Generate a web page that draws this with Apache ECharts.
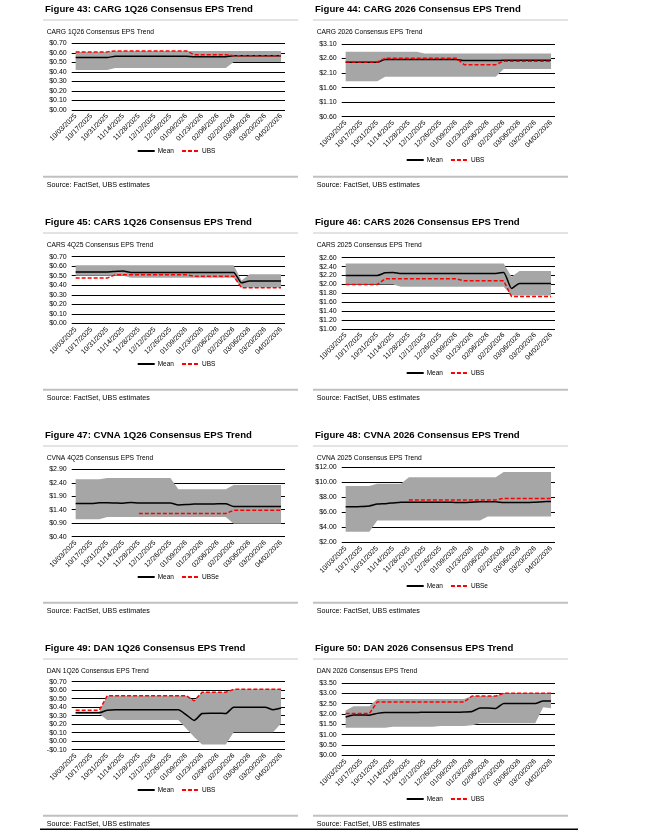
<!DOCTYPE html>
<html><head><meta charset="utf-8">
<script src="https://cdn.jsdelivr.net/npm/echarts@6/dist/echarts.min.js"></script>
<style>html,body{margin:0;padding:0;background:#fff}#c{width:672px;height:831px}</style>
</head><body><div id="c"></div>
<script>
// ---------- data ----------
const dates = ['10/03/2025','10/10/2025','10/17/2025','10/24/2025','10/31/2025','11/07/2025','11/14/2025','11/21/2025','11/28/2025','12/05/2025','12/12/2025','12/19/2025','12/26/2025','01/02/2026','01/09/2026','01/16/2026','01/23/2026','01/30/2026','02/06/2026','02/13/2026','02/20/2026','02/27/2026','03/06/2026','03/13/2026','03/20/2026','03/27/2026','04/02/2026'];

// Figure 43: CARG 1Q26
const cargQMean = [0.55,0.55,0.55,0.55,0.55,0.565,0.565,0.565,0.565,0.565,0.565,0.565,0.565,0.565,0.565,0.56,0.56,0.56,0.56,0.56,0.57,0.57,0.57,0.57,0.57,0.57,0.57];
const cargQUbs  = [0.61,0.61,0.61,0.61,0.61,0.62,0.62,0.62,0.62,0.62,0.62,0.62,0.62,0.62,0.62,0.58,0.58,0.58,0.58,0.58,0.57,0.57,0.57,0.57,0.57,0.57,0.57];
const cargQHigh = [0.61,0.61,0.61,0.61,0.61,0.62,0.62,0.62,0.62,0.62,0.62,0.62,0.62,0.62,0.62,0.62,0.62,0.62,0.62,0.62,0.62,0.62,0.62,0.62,0.62,0.62,0.62];
const cargQLow  = [0.42,0.42,0.42,0.42,0.42,0.44,0.44,0.44,0.44,0.44,0.44,0.44,0.44,0.44,0.44,0.44,0.44,0.44,0.44,0.44,0.505,0.505,0.505,0.505,0.505,0.505,0.505];

// Figure 44: CARG 2026
const carg26Mean = [2.47,2.47,2.47,2.47,2.47,2.57,2.57,2.57,2.57,2.57,2.57,2.57,2.57,2.57,2.57,2.53,2.53,2.53,2.53,2.53,2.54,2.54,2.54,2.54,2.54,2.54,2.54];
const carg26Ubs  = [2.48,2.48,2.48,2.48,2.48,2.61,2.61,2.61,2.61,2.61,2.61,2.61,2.61,2.61,2.61,2.39,2.39,2.39,2.39,2.39,2.51,2.51,2.51,2.51,2.51,2.51,2.51];
const carg26High = [2.83,2.83,2.83,2.83,2.83,2.83,2.83,2.83,2.83,2.83,2.77,2.77,2.77,2.77,2.77,2.77,2.77,2.77,2.77,2.77,2.77,2.77,2.77,2.77,2.77,2.77,2.77];
const carg26Low  = [1.82,1.82,1.82,1.82,1.82,1.97,1.97,1.97,1.97,1.97,1.97,1.97,1.97,1.97,1.97,1.97,1.97,1.97,1.97,1.97,2.24,2.24,2.24,2.24,2.24,2.24,2.24];

// Figure 45: CARS 1Q26
const carsQMean = [0.54,0.54,0.54,0.54,0.54,0.545,0.55,0.535,0.535,0.535,0.535,0.535,0.535,0.535,0.535,0.535,0.535,0.535,0.535,0.535,0.535,0.425,0.445,0.445,0.445,0.445,0.445];
const carsQUbs  = [0.475,0.475,0.475,0.475,0.475,0.51,0.51,0.51,0.51,0.51,0.51,0.51,0.51,0.51,0.51,0.495,0.495,0.495,0.495,0.495,0.495,0.373,0.373,0.373,0.373,0.373,0.373];
const carsQHigh = [0.61,0.61,0.61,0.61,0.61,0.61,0.61,0.61,0.61,0.61,0.61,0.61,0.61,0.61,0.61,0.61,0.61,0.61,0.61,0.61,0.61,0.45,0.515,0.515,0.515,0.515,0.515];
const carsQLow  = [0.50,0.50,0.50,0.50,0.50,0.50,0.50,0.48,0.48,0.48,0.48,0.48,0.48,0.48,0.48,0.48,0.48,0.48,0.48,0.48,0.48,0.375,0.375,0.375,0.375,0.375,0.375];

// Figure 46: CARS 2026
const cars26Mean = [2.20,2.20,2.20,2.20,2.20,2.26,2.27,2.245,2.245,2.245,2.245,2.245,2.245,2.245,2.245,2.245,2.245,2.245,2.245,2.245,2.27,1.91,2.02,2.02,2.02,2.02,2.02];
const cars26Ubs  = [2.00,2.00,2.00,2.00,2.00,2.125,2.125,2.125,2.125,2.125,2.125,2.125,2.125,2.125,2.125,2.08,2.08,2.08,2.08,2.08,2.08,1.73,1.73,1.73,1.73,1.73,1.73];
const cars26High = [2.47,2.47,2.47,2.47,2.47,2.47,2.47,2.47,2.47,2.47,2.47,2.47,2.47,2.47,2.47,2.47,2.47,2.47,2.47,2.47,2.47,2.17,2.30,2.30,2.30,2.30,2.30];
const cars26Low  = [2.00,2.00,2.00,2.00,2.00,2.00,2.00,1.95,1.95,1.95,1.95,1.95,1.95,1.95,1.95,1.95,1.95,1.95,1.95,1.95,1.95,1.75,1.75,1.75,1.75,1.75,1.75];

// Figure 47: CVNA 1Q26
const cvnaQMean = [1.63,1.63,1.63,1.66,1.66,1.65,1.64,1.67,1.65,1.65,1.65,1.65,1.65,1.58,1.59,1.61,1.61,1.61,1.62,1.62,1.52,1.52,1.52,1.52,1.52,1.52,1.52];
const cvnaQUbs  = [null,null,null,null,null,null,null,null,1.26,1.26,1.26,1.26,1.26,1.26,1.26,1.26,1.26,1.26,1.26,1.26,1.38,1.38,1.38,1.38,1.38,1.38,1.38];
const cvnaQHigh = [2.53,2.53,2.53,2.53,2.58,2.58,2.58,2.58,2.58,2.58,2.58,2.58,2.58,2.16,2.16,2.16,2.16,2.16,2.16,2.16,2.32,2.32,2.32,2.32,2.32,2.32,2.32];
const cvnaQLow  = [1.05,1.05,1.05,1.05,1.13,1.13,1.13,1.13,1.13,1.13,1.13,1.13,1.13,1.13,1.13,1.13,1.13,1.13,1.13,1.13,0.88,0.88,0.88,0.88,0.88,0.88,0.88];

// Figure 48: CVNA 2026
const cvna26Mean = [6.75,6.75,6.78,6.85,7.10,7.15,7.25,7.35,7.35,7.35,7.35,7.35,7.35,7.35,7.30,7.30,7.35,7.40,7.40,7.40,7.30,7.30,7.30,7.30,7.35,7.40,7.45];
const cvna26Ubs  = [null,null,null,null,null,null,null,null,7.65,7.65,7.65,7.65,7.65,7.65,7.65,7.65,7.65,7.65,7.65,7.65,7.85,7.85,7.85,7.85,7.85,7.85,7.85];
const cvna26High = [9.5,9.5,9.5,9.5,9.8,9.8,9.8,9.8,10.67,10.67,10.67,10.67,10.67,10.67,10.67,10.67,10.67,10.67,10.67,10.67,11.38,11.38,11.38,11.38,11.38,11.38,11.38];
const cvna26Low  = [3.42,3.42,3.42,3.42,4.9,4.9,4.9,4.9,4.9,4.9,4.9,4.9,4.9,4.9,4.9,4.9,4.9,4.9,5.45,5.45,5.45,5.45,5.45,5.45,5.45,5.45,5.45];

// Figure 49: DAN 1Q26
const danQMean = [0.335,0.335,0.335,0.335,0.365,0.37,0.37,0.37,0.37,0.37,0.37,0.37,0.37,0.37,0.31,0.245,0.325,0.33,0.33,0.325,0.40,0.40,0.40,0.40,0.40,0.37,0.39];
const danQUbs  = [0.365,0.365,0.365,0.365,0.535,0.535,0.535,0.535,0.535,0.535,0.535,0.535,0.535,0.535,0.535,0.475,0.575,0.575,0.575,0.575,0.61,0.61,0.61,0.61,0.61,0.61,0.61];
const danQHigh = [0.35,0.35,0.35,0.35,0.535,0.535,0.535,0.535,0.535,0.535,0.535,0.535,0.535,0.535,0.535,0.475,0.575,0.575,0.575,0.575,0.61,0.61,0.61,0.61,0.61,0.61,0.61];
const danQLow  = [0.32,0.32,0.32,0.32,0.25,0.25,0.25,0.25,0.25,0.25,0.25,0.25,0.25,0.25,0.15,0.05,-0.04,-0.04,-0.04,-0.04,0.105,0.105,0.105,0.105,0.105,0.105,0.21];

// Figure 50: DAN 2026
const dan26Mean = [1.85,1.95,1.95,1.94,2.03,2.07,2.07,2.07,2.07,2.07,2.09,2.09,2.09,2.09,2.09,2.10,2.12,2.29,2.29,2.27,2.51,2.51,2.51,2.51,2.51,2.63,2.63];
const dan26Ubs  = [2.02,2.02,2.02,2.02,2.58,2.58,2.58,2.58,2.58,2.58,2.58,2.58,2.58,2.58,2.58,2.58,2.87,2.87,2.87,2.87,3.00,3.00,3.00,3.00,3.00,3.00,3.00];
const dan26High = [2.17,2.38,2.38,2.38,2.73,2.73,2.73,2.73,2.73,2.73,2.73,2.73,2.73,2.73,2.73,2.73,2.87,2.87,2.87,2.87,3.00,3.00,3.00,3.00,3.00,3.00,3.00];
const dan26Low  = [1.33,1.33,1.33,1.33,1.33,1.33,1.38,1.38,1.38,1.38,1.38,1.38,1.42,1.42,1.42,1.42,1.45,1.55,1.55,1.55,1.55,1.55,1.55,1.55,1.55,2.33,2.28];

// ---------- panels ----------
const panels = [
  {fig:'Figure 43: CARG 1Q26 Consensus EPS Trend', sub:'CARG 1Q26 Consensus EPS Trend', ubsName:'UBS', mean:cargQMean, ubs:cargQUbs, high:cargQHigh, low:cargQLow, min:0, max:0.7, step:0.1, col:0, row:0, top:43.3, bot:110},
  {fig:'Figure 44: CARG 2026 Consensus EPS Trend', sub:'CARG 2026 Consensus EPS Trend', ubsName:'UBS', mean:carg26Mean, ubs:carg26Ubs, high:carg26High, low:carg26Low, min:0.6, max:3.1, step:0.5, col:1, row:0, top:44, bot:116.7},
  {fig:'Figure 45: CARS 1Q26 Consensus EPS Trend', sub:'CARS 4Q25 Consensus EPS Trend', ubsName:'UBS', mean:carsQMean, ubs:carsQUbs, high:carsQHigh, low:carsQLow, min:0, max:0.7, step:0.1, col:0, row:1, top:43.7, bot:110.3},
  {fig:'Figure 46: CARS 2026 Consensus EPS Trend', sub:'CARS 2025 Consensus EPS Trend', ubsName:'UBS', mean:cars26Mean, ubs:cars26Ubs, high:cars26High, low:cars26Low, min:1.0, max:2.6, step:0.2, col:1, row:1, top:44.7, bot:116},
  {fig:'Figure 47: CVNA 1Q26 Consensus EPS Trend', sub:'CVNA 4Q25 Consensus EPS Trend', ubsName:'UBSe', mean:cvnaQMean, ubs:cvnaQUbs, high:cvnaQHigh, low:cvnaQLow, min:0.4, max:2.9, step:0.5, col:0, row:2, top:43.3, bot:110.7},
  {fig:'Figure 48: CVNA 2026 Consensus EPS Trend', sub:'CVNA 2025 Consensus EPS Trend', ubsName:'UBSe', mean:cvna26Mean, ubs:cvna26Ubs, high:cvna26High, low:cvna26Low, min:2, max:12, step:2, col:1, row:2, top:41.3, bot:116.3},
  {fig:'Figure 49: DAN 1Q26 Consensus EPS Trend', sub:'DAN 1Q26 Consensus EPS Trend', ubsName:'UBS', mean:danQMean, ubs:danQUbs, high:danQHigh, low:danQLow, min:-0.1, max:0.7, step:0.1, col:0, row:3, top:42.7, bot:110.7},
  {fig:'Figure 50: DAN 2026 Consensus EPS Trend', sub:'DAN 2026 Consensus EPS Trend', ubsName:'UBS', mean:dan26Mean, ubs:dan26Ubs, high:dan26High, low:dan26Low, min:0, max:3.5, step:0.5, col:1, row:3, top:44, bot:116.3}
];

const FONT = '"Liberation Sans", Arial, sans-serif';
const chart = echarts.init(document.getElementById('c'), null, {renderer:'canvas'});
const grid=[], xAxis=[], yAxis=[], series=[], legend=[], graphic=[];

panels.forEach((p,k)=>{
  const ox = p.col===0 ? 40 : 310;
  const oy = p.row*213;
  grid.push({left: ox+31.7, width: 213.3, top: oy+p.top, height: p.bot-p.top});
  xAxis.push({type:'category', gridIndex:k, data:dates, boundaryGap:true,
    axisLine:{show:false}, axisTick:{show:false}, splitLine:{show:false},
    axisLabel:{interval:1, rotate:45, fontSize:7, color:'#000', margin:5, fontFamily:FONT}});
  yAxis.push({type:'value', gridIndex:k, min:p.min, max:p.max, interval:p.step,
    axisLine:{show:false}, axisTick:{show:false},
    axisLabel:{fontSize:7, color:'#000', margin:5, fontFamily:FONT,
      formatter: v => (v < -1e-9 ? '-$' : '$') + Math.abs(v).toFixed(2)},
    splitLine:{lineStyle:{color:'#000', width:1.2}}});
  const range = p.high.map((h,i)=> +(h - p.low[i]).toFixed(4));
  series.push({type:'line', name:'low'+k, xAxisIndex:k, yAxisIndex:k, data:p.low, stack:'band'+k, stackStrategy:'all',
    symbol:'none', lineStyle:{width:0, opacity:0}, silent:true, z:1, animation:false});
  series.push({type:'line', name:'range'+k, xAxisIndex:k, yAxisIndex:k, data:range, stack:'band'+k, stackStrategy:'all',
    symbol:'none', lineStyle:{width:0, opacity:0}, areaStyle:{color:'#a6a6a6', opacity:1}, silent:true, z:1, animation:false});
  series.push({type:'line', name:'Mean', xAxisIndex:k, yAxisIndex:k, data:p.mean, symbol:'none', smooth:0.2,
    lineStyle:{color:'#000', width:1.5}, itemStyle:{color:'#000'}, z:3, animation:false});
  series.push({type:'line', name:p.ubsName, xAxisIndex:k, yAxisIndex:k, data:p.ubs, symbol:'none',
    lineStyle:{color:'#ff0000', width:1.5, type:[4,2]}, itemStyle:{color:'#ff0000'}, z:4, animation:false});
  const ly = oy + (p.col===0 ? 151 : 160);
  legend.push({data:['Mean', p.ubsName], left: ox + (p.col===0 ? 96.7 : 95.7), top: ly-3.5, itemWidth:17, itemHeight:7, itemGap:7,
    padding:0, selectedMode:false, itemStyle:{opacity:0, borderWidth:0},
    textStyle:{fontSize:6.5, color:'#000', fontFamily:FONT, padding:[0,0,0,-2]}});
  graphic.push({type:'text', x:ox+5, y:oy+9.7, style:{text:p.fig, font:'bold 9.6px '+FONT, fill:'#000', verticalAlign:'middle'}});
  graphic.push({type:'line', shape:{x1:ox+3, y1:oy+20, x2:ox+258, y2:oy+20}, style:{stroke:'#c8c8c8', lineWidth:1}});
  graphic.push({type:'text', x:ox+6.7, y:oy+32.3, style:{text:p.sub, font:'6.7px '+FONT, fill:'#000', verticalAlign:'middle'}});
  graphic.push({type:'line', shape:{x1:ox+3, y1:oy+176.7, x2:ox+258, y2:oy+176.7}, style:{stroke:'#c0c0c0', lineWidth:2}});
  graphic.push({type:'text', x:ox+6.7, y:oy+185.3, style:{text:'Source: FactSet, UBS estimates', font:'7.2px '+FONT, fill:'#000', verticalAlign:'middle'}});
});
graphic.push({type:'rect', shape:{x:40, y:828.5, width:538, height:1.5}, style:{fill:'#000'}});

chart.setOption({animation:false, textStyle:{fontFamily:FONT}, grid, xAxis, yAxis, series, legend, graphic});
</script></body></html>
